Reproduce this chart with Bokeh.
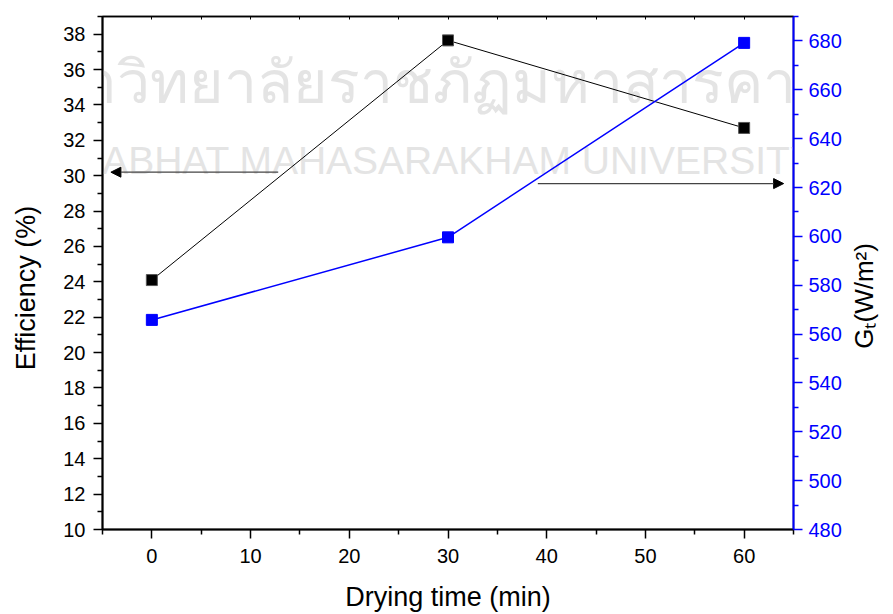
import math
from bokeh.plotting import figure
from bokeh.models import LinearAxis, Range1d, FixedTicker, Arrow, NormalHead, Label
from bokeh.embed import file_html
from bokeh.resources import INLINE

# ---- data ----
drying_time = [0, 30, 60]
efficiency = [24.1, 37.65, 32.7]
gt = [565.8, 599.6, 679.2]

x_major = [0, 10, 20, 30, 40, 50, 60]
x_minor = [-5, 5, 15, 25, 35, 45, 55, 65]
eff_major = list(range(10, 39, 2))
eff_minor = list(range(11, 40, 2))
gt_major = list(range(480, 681, 20))
gt_minor = list(range(490, 691, 20))

x_label = "Drying time (min)"
eff_label = "Efficiency (%)"
gt_label = "Gₜ(W/m²)"

wm_thai = "มหาวิทยาลัยราชภัฏมหาสารคาม"
wm_eng = "RAJABHAT MAHASARAKHAM UNIVERSITY"

FONT = "Liberation Sans"
BLUE = "#0000ff"
NB = "\u00a0"
GT_LABEL_AT = 554  # where the right-hand title starts along the G_t axis

p = figure(frame_width=691, frame_height=513,
           x_range=Range1d(-5, 65), y_range=Range1d(10, 39),
           output_backend="svg", toolbar_location=None,
           min_border_left=102, min_border_top=16, min_border_right=96, min_border_bottom=84)
p.extra_y_ranges = {"gt": Range1d(480, 690)}
p.xgrid.visible = False
p.ygrid.visible = False
p.outline_line_color = "black"
p.outline_line_width = 1.5
p.background_fill_color = "white"
p.border_fill_color = "white"

# watermark
p.add_layout(Label(x=420, y=82, x_units="canvas", y_units="canvas", text=wm_thai,
                   text_align="center", text_baseline="alphabetic",
                   text_font=FONT, text_font_size="59px", text_color="#e4e4e4", level="guide"))
p.add_layout(Label(x=422, y=160, x_units="canvas", y_units="canvas", text=wm_eng,
                   text_align="center", text_baseline="alphabetic",
                   text_font=FONT, text_font_size="39px", text_color="#e4e4e4", level="guide"))

def style_axis(ax, color="black"):
    ax.level = "overlay"
    ax.axis_line_color = color
    ax.axis_line_width = 2
    ax.major_tick_line_color = color
    ax.minor_tick_line_color = color
    ax.major_tick_line_width = 1.5
    ax.minor_tick_line_width = 1.5
    ax.major_tick_out = 9
    ax.major_tick_in = 0
    ax.minor_tick_out = 5
    ax.minor_tick_in = 0
    ax.major_label_text_font = FONT
    ax.major_label_text_font_size = "20px"
    ax.major_label_text_color = color
    ax.axis_label_text_font = FONT
    ax.axis_label_text_font_size = "27px"
    ax.axis_label_text_font_style = "normal"
    ax.axis_label_text_color = "black"

xa = p.xaxis[0]
xa.ticker = FixedTicker(ticks=x_major, minor_ticks=x_minor)
xa.axis_label = x_label
style_axis(xa)
xa.major_label_standoff = 10
xa.axis_label_standoff = 16

ya = p.yaxis[0]
ya.ticker = FixedTicker(ticks=eff_major, minor_ticks=eff_minor)
ya.axis_label = eff_label + NB * 4
style_axis(ya)
ya.major_label_standoff = 8
ya.axis_label_standoff = 19

ra = LinearAxis(y_range_name="gt", ticker=FixedTicker(ticks=gt_major, minor_ticks=gt_minor))
style_axis(ra, BLUE)
ra.major_label_standoff = 6
p.add_layout(ra, "right")

# right-hand title, drawn as the single label of a bare axis (reads bottom-to-top)
rl = LinearAxis(y_range_name="gt", ticker=FixedTicker(ticks=[GT_LABEL_AT], minor_ticks=[]),
                major_label_overrides={GT_LABEL_AT: gt_label})
style_axis(rl)
rl.axis_line_color = None
rl.major_tick_out = 0
rl.minor_tick_out = 0
rl.major_label_text_font_size = "26px"
rl.major_label_text_color = "black"
rl.major_label_standoff = 20
rl.major_label_orientation = math.pi / 2
p.add_layout(rl, "right")

# top frame with small inward ticks only (no labels)
ta = LinearAxis(ticker=FixedTicker(ticks=[], minor_ticks=x_major + x_minor))
ta.level = "overlay"
ta.axis_line_color = "black"
ta.axis_line_width = 1.5
ta.minor_tick_in = 3
ta.minor_tick_out = 0
ta.minor_tick_line_color = "black"
ta.major_tick_in = 0
ta.major_tick_out = 0
p.add_layout(ta, "above")

# series
p.line(drying_time, efficiency, line_color="black", line_width=1, level="overlay")
p.scatter(drying_time, efficiency, marker="square", size=11, fill_color="black",
          line_color="#555555", level="overlay")
p.line(drying_time, gt, line_color=BLUE, line_width=1.5, y_range_name="gt", level="overlay")
p.scatter(drying_time, gt, marker="square", size=11, fill_color=BLUE, line_color=BLUE,
          y_range_name="gt", level="overlay")

# arrows indicating axes
p.add_layout(Arrow(x_start=12.8, y_start=30.2, x_end=-4.15, y_end=30.2,
                   line_color="#444444", line_width=1.3, level="overlay",
                   end=NormalHead(size=10, fill_color="black", line_color="black")))
p.add_layout(Arrow(x_start=39.1, y_start=621.6, x_end=64.0, y_end=621.6, y_range_name="gt",
                   line_color="#444444", line_width=1.3, level="overlay",
                   end=NormalHead(size=10, fill_color="black", line_color="black")))

open("out.html", "w").write(file_html(p, INLINE))
